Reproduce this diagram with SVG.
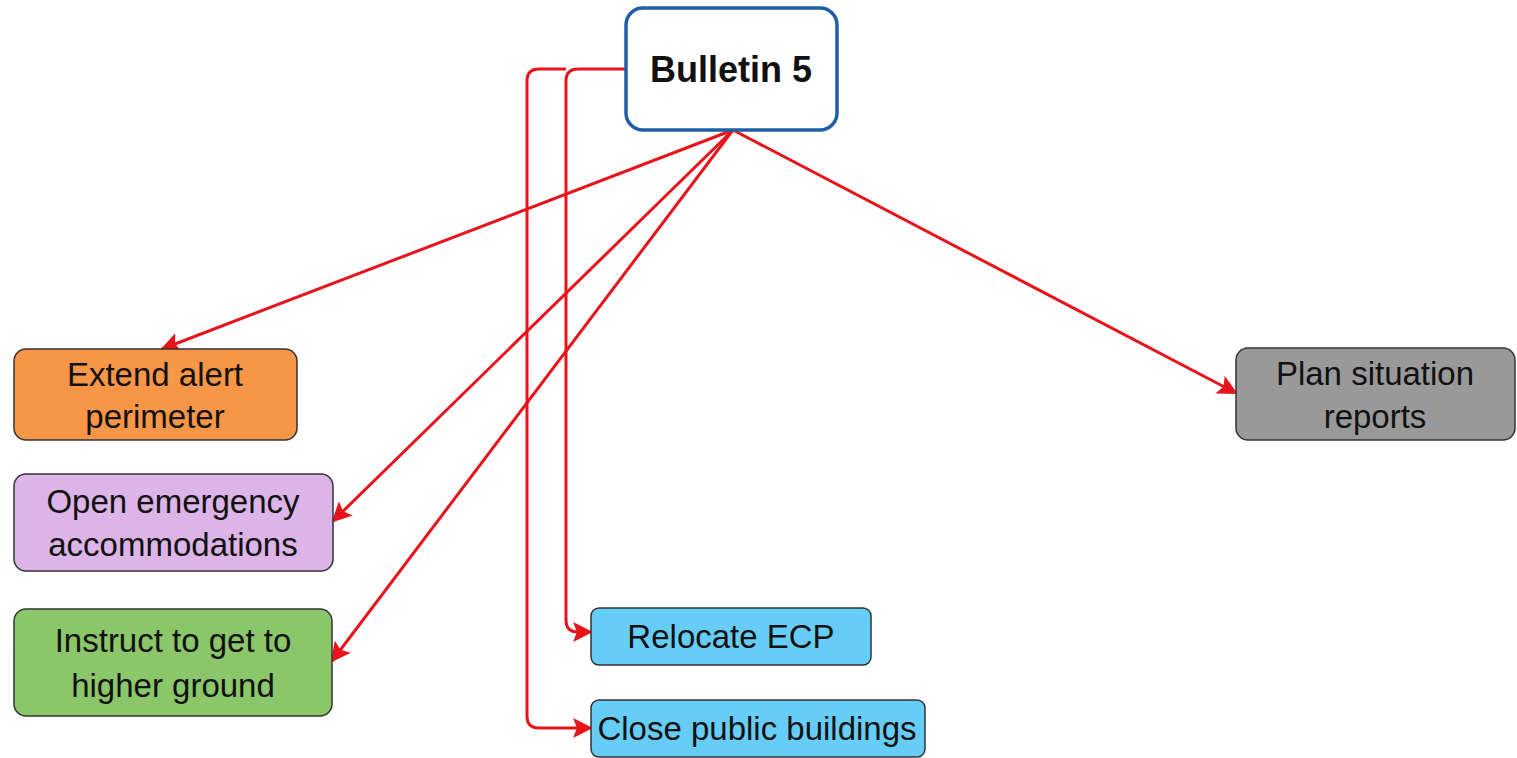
<svg xmlns="http://www.w3.org/2000/svg" width="1517" height="758" viewBox="0 0 1517 758">
<defs>
<style>
.n{stroke:#333;stroke-width:1.5}
.t{font-family:"Liberation Sans",Arial,sans-serif;font-size:33px;fill:#111;text-anchor:middle}
.c{fill:none;stroke:#e8141c;stroke-width:3}
</style>
<marker id="ah" viewBox="0 0 10 10" refX="9" refY="5" markerWidth="20" markerHeight="20" markerUnits="userSpaceOnUse" orient="auto">
<path d="M0,0 L10,5 L0,10 L2,5 z" fill="#e8141c"/>
</marker>
</defs>
<rect width="1517" height="758" fill="#fff"/>
<g id="connectors">
<path class="c" marker-end="url(#ah)" d="M733,130 L162,349"/>
<path class="c" marker-end="url(#ah)" d="M733,130 L333,521"/>
<path class="c" marker-end="url(#ah)" d="M733,130 L332,661"/>
<path class="c" marker-end="url(#ah)" d="M733,130 L1236,393"/>
<path class="c" marker-end="url(#ah)" d="M625,69 L578,69 Q566,69 566,81 L566,620 Q566,632 578,632 L591,632"/>
<path class="c" marker-end="url(#ah)" d="M566,69 L539,69 Q527,69 527,81 L527,716 Q527,728 539,728 L591,728"/>
</g>
<g id="bulletin5">
<rect x="626" y="8" width="211" height="122" rx="17" fill="#fff" stroke="#1f5fa8" stroke-width="3.5"/>
<text x="731" y="82" class="t" style="font-weight:bold;font-size:36px">Bulletin 5</text>
</g>
<g id="extend">
<rect x="14" y="349" width="283" height="91" rx="12" fill="#f79646" class="n"/>
<text x="155" y="386" class="t">Extend alert</text>
<text x="155" y="428" class="t">perimeter</text>
</g>
<g id="open">
<rect x="14" y="474" width="319" height="97" rx="12" fill="#dcb4e8" class="n"/>
<text x="173" y="513" class="t">Open emergency</text>
<text x="173" y="556" class="t">accommodations</text>
</g>
<g id="instruct">
<rect x="14" y="609" width="318" height="107" rx="12" fill="#8cc66a" class="n"/>
<text x="173" y="652" class="t">Instruct to get to</text>
<text x="173" y="697" class="t">higher ground</text>
</g>
<g id="relocate">
<rect x="591" y="608" width="280" height="57" rx="8" fill="#66cdf7" class="n"/>
<text x="731" y="648" class="t">Relocate ECP</text>
</g>
<g id="close">
<rect x="591" y="700" width="334" height="57" rx="8" fill="#66cdf7" class="n"/>
<text x="757" y="740" class="t">Close public buildings</text>
</g>
<g id="plan">
<rect x="1236" y="348" width="279" height="92" rx="12" fill="#999999" class="n"/>
<text x="1375" y="385" class="t">Plan situation</text>
<text x="1375" y="428" class="t">reports</text>
</g>
</svg>
